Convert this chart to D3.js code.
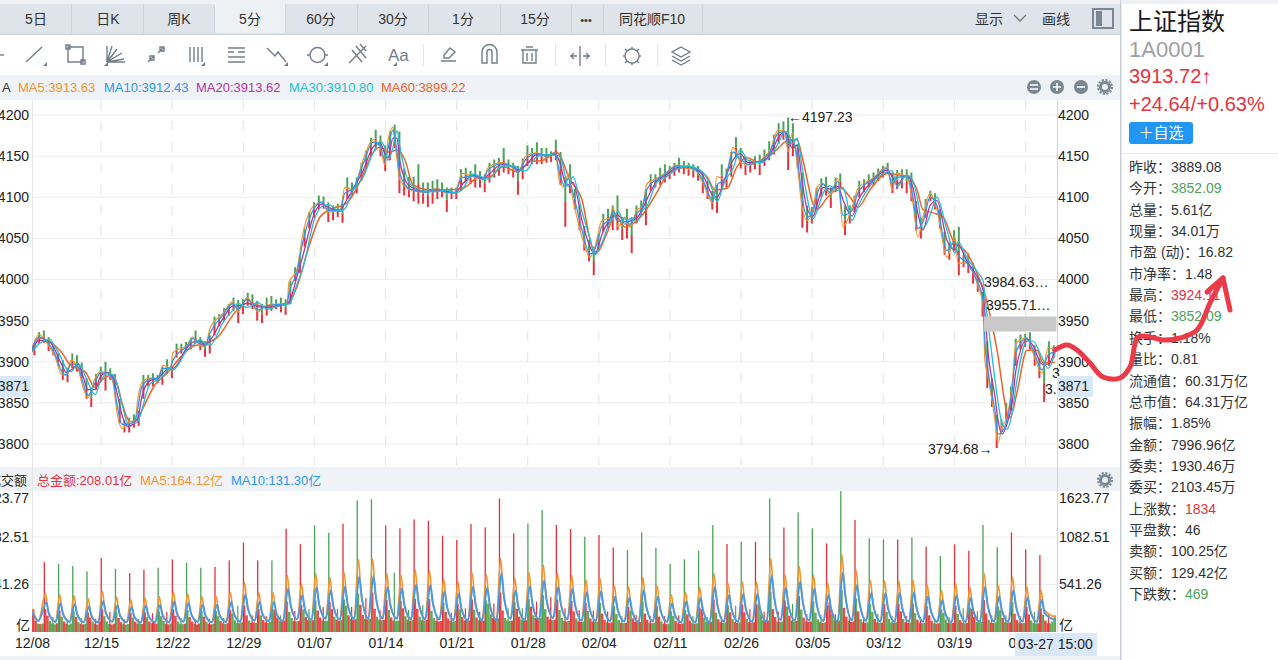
<!DOCTYPE html>
<html>
<head>
<meta charset="utf-8">
<script src="https://cdn.jsdelivr.net/npm/d3@7"></script>
<style>
  html, body { margin: 0; padding: 0; background: #fff; overflow: hidden; }
  svg { display: block; font-family: "Liberation Sans", "Noto Sans CJK SC", sans-serif; }
</style>
</head>
<body>
<svg id="chart" width="1278" height="660"></svg>
<script>
// 5 minute bars, 48 a day. Positions below are bar numbers.
const totalBars = 3456;
const dateBars = [0, 233, 473, 713, 953, 1193, 1433, 1673, 1913, 2153, 2393, 2633, 2873, 3113, 3353];
const dateLabels = ["12/08", "12/15", "12/22", "12/29", "01/07", "01/14", "01/21", "01/28", "02/04", "02/11", "02/26", "03/05", "03/12", "03/19", "03/26"];
const priceTicks = [3800, 3850, 3900, 3950, 4000, 4050, 4100, 4150, 4200];
const volumeTicks = [541.26, 1082.51, 1623.77];

const sampleBars = [0,24,61,78,101,115,132,155,172,189,213,230,253,273,287,304,324,348,358,371,398,425,442,466,476,523,543,567,584,601,645,678,695,726,763,793,861,867,894,915,955,979,999,1040,1056,1083,1117,1151,1175,1191,1202,1218,1232,1242,1276,1333,1367,1401,1428,1451,1488,1522,1539,1586,1630,1640,1664,1704,1738,1765,1782,1799,1809,1826,1856,1883,1900,1924,1951,1961,1978,2001,2018,2042,2059,2076,2109,2136,2177,2211,2238,2265,2298,2312,2339,2366,2390,2417,2457,2491,2518,2541,2552,2565,2582,2599,2616,2636,2649,2670,2693,2720,2737,2768,2788,2838,2886,2903,2919,2953,2973,2990,3007,3031,3054,3088,3115,3125,3156,3189,3210,3216,3227,3250,3260,3274,3291,3308,3321,3358,3378,3409,3429,3453];
const ma5 = [3917,3933,3917,3906,3884,3884,3902,3892,3869,3856,3880,3888,3886,3875,3838,3819,3826,3829,3857,3875,3880,3880,3896,3890,3911,3920,3930,3920,3918,3941,3959,3973,3961,3978,3961,3969,3971,3996,4012,4057,4091,4094,4082,4085,4112,4109,4145,4170,4161,4139,4170,4185,4145,4121,4109,4106,4111,4105,4106,4129,4125,4121,4136,4142,4133,4129,4149,4154,4149,4155,4117,4112,4129,4097,4052,4027,4040,4072,4075,4088,4064,4076,4064,4085,4088,4117,4123,4129,4139,4136,4133,4117,4093,4125,4121,4161,4143,4139,4145,4157,4182,4179,4155,4178,4142,4088,4072,4085,4112,4117,4103,4123,4064,4088,4111,4123,4137,4109,4129,4125,4093,4052,4076,4105,4085,4027,4052,4020,4020,3996,3967,3902,3881,3829,3801,3821,3833,3874,3923,3929,3911,3886,3917,3913.63];
const ma10 = [3916,3930,3920,3909,3888,3884,3898,3894,3875,3859,3875,3886,3886,3878,3848,3824,3824,3828,3845,3870,3879,3880,3892,3891,3902,3919,3928,3922,3919,3935,3957,3971,3964,3976,3963,3968,3971,3983,4009,4047,4088,4094,4084,4084,4105,4110,4140,4167,4163,4145,4160,4182,4155,4128,4110,4106,4110,4106,4106,4124,4126,4122,4133,4141,4135,4130,4145,4153,4150,4154,4127,4113,4123,4105,4060,4031,4037,4065,4074,4083,4070,4074,4067,4081,4087,4110,4122,4128,4138,4137,4134,4120,4096,4115,4122,4155,4147,4140,4144,4155,4178,4180,4162,4170,4150,4100,4076,4082,4103,4116,4106,4119,4078,4084,4106,4122,4135,4116,4124,4126,4101,4062,4070,4100,4090,4035,4046,4030,4020,3999,3975,3925,3888,3840,3812,3815,3830,3865,3912,3928,3915,3890,3908,3912.43];
const ma20 = [3914,3926,3924,3914,3896,3887,3890,3897,3883,3866,3866,3881,3887,3881,3862,3835,3821,3827,3832,3858,3877,3880,3886,3893,3892,3917,3924,3925,3920,3926,3953,3968,3968,3971,3967,3966,3970,3972,4003,4030,4082,4092,4088,4084,4093,4110,4132,4161,4166,4153,4148,4172,4172,4143,4113,4107,4109,4107,4105,4115,4127,4123,4127,4140,4136,4133,4138,4152,4151,4152,4142,4118,4115,4118,4072,4040,4031,4055,4073,4077,4078,4070,4071,4075,4085,4098,4120,4126,4136,4137,4135,4126,4102,4100,4123,4145,4153,4142,4143,4152,4172,4180,4172,4160,4163,4120,4086,4077,4090,4112,4110,4113,4097,4077,4096,4120,4133,4125,4116,4127,4112,4080,4060,4090,4096,4048,4036,4042,4022,4004,3987,3960,3910,3858,3830,3812,3825,3850,3890,3927,3920,3897,3897,3913.62];
const ma30 = [3912,3922,3927,3918,3903,3892,3888,3898,3889,3875,3860,3875,3886,3884,3872,3848,3825,3825,3828,3842,3873,3878,3882,3893,3890,3914,3920,3927,3922,3920,3948,3963,3971,3966,3972,3964,3970,3970,3994,4015,4075,4089,4091,4083,4086,4108,4124,4154,4168,4160,4145,4160,4181,4160,4116,4107,4107,4109,4105,4109,4128,4124,4122,4138,4138,4135,4132,4149,4152,4151,4150,4127,4113,4125,4083,4050,4030,4045,4070,4074,4083,4067,4074,4070,4083,4090,4118,4124,4134,4138,4136,4130,4108,4095,4120,4135,4158,4145,4142,4150,4165,4180,4178,4165,4172,4138,4100,4074,4083,4105,4114,4108,4112,4072,4089,4118,4131,4132,4113,4127,4120,4095,4062,4078,4100,4060,4032,4046,4026,4010,3998,3980,3945,3878,3852,3825,3818,3838,3870,3925,3925,3905,3892,3910.8];
const ma60Bars = [0,27,61,101,128,179,213,236,270,287,304,331,354,375,415,456,500,540,591,624,692,726,793,861,894,928,972,1006,1063,1107,1151,1175,1202,1232,1259,1286,1343,1401,1455,1502,1546,1590,1637,1681,1725,1772,1816,1856,1890,1907,1941,1968,2001,2052,2109,2136,2197,2244,2278,2305,2346,2379,2413,2457,2501,2558,2582,2602,2636,2649,2683,2727,2761,2788,2828,2886,2963,2987,3007,3041,3075,3108,3156,3189,3216,3257,3291,3301,3324,3358,3392,3412,3453];
const ma60 = [3912,3929,3924,3911,3896,3888,3869,3878,3884,3874,3850,3827,3829,3844,3872,3886,3905,3918,3923,3929,3963,3971,3967,3971,3991,4032,4076,4085,4093,4119,4154,4161,4155,4157,4145,4115,4109,4109,4111,4123,4125,4137,4131,4143,4145,4154,4121,4097,4040,4033,4057,4078,4064,4075,4106,4123,4136,4133,4125,4109,4111,4137,4148,4142,4154,4170,4170,4145,4092,4085,4099,4112,4100,4088,4109,4129,4123,4109,4085,4081,4076,4048,4032,4008,3982,3914,3838,3832,3862,3914,3914,3899,3899.22];

// one high and one low every 16 bars
const candleHigh = [3921,3936,3938,3930,3921,3910,3902,3893,3910,3908,3899,3880,3868,3885,3894,3900,3892,3885,3855,3829,3832,3836,3840,3884,3884,3886,3884,3894,3903,3895,3922,3922,3924,3929,3938,3930,3925,3932,3955,3958,3965,3970,3978,3975,3976,3984,3982,3974,3970,3978,3980,3976,3978,3976,3998,4015,4028,4062,4082,4094,4102,4101,4094,4090,4092,4092,4124,4118,4124,4142,4157,4172,4182,4175,4163,4180,4188,4180,4135,4125,4125,4140,4118,4118,4120,4122,4118,4112,4112,4112,4134,4136,4132,4140,4132,4128,4142,4146,4148,4160,4146,4142,4138,4147,4163,4160,4167,4160,4160,4156,4170,4155,4125,4140,4110,4090,4065,4048,4040,4055,4080,4086,4090,4102,4076,4086,4076,4090,4096,4110,4128,4128,4136,4140,4138,4142,4148,4144,4142,4140,4138,4130,4120,4108,4115,4140,4135,4155,4173,4160,4150,4146,4150,4152,4158,4168,4176,4190,4192,4197,4190,4165,4130,4090,4088,4112,4123,4125,4112,4124,4129,4090,4090,4102,4120,4122,4128,4130,4135,4138,4142,4130,4133,4134,4134,4130,4095,4075,4098,4108,4105,4085,4058,4045,4060,4064,4030,4032,4020,4005,3985,3925,3880,3835,3830,3850,3870,3928,3933,3934,3936,3920,3905,3898,3925,3920];
const candleLow = [3908,3922,3923,3913,3908,3895,3878,3875,3892,3888,3880,3855,3845,3866,3876,3865,3878,3866,3825,3814,3814,3820,3822,3855,3870,3870,3874,3872,3885,3880,3905,3910,3913,3915,3922,3914,3906,3910,3932,3943,3950,3956,3962,3947,3958,3968,3964,3950,3947,3956,3962,3964,3960,3957,3970,3998,4008,4040,4062,4075,4085,4086,4070,4072,4076,4069,4098,4102,4105,4120,4135,4150,4160,4150,4132,4145,4160,4105,4102,4100,4095,4092,4092,4088,4092,4098,4100,4082,4098,4098,4108,4118,4116,4112,4112,4106,4118,4124,4126,4130,4128,4124,4103,4122,4138,4140,4140,4140,4142,4143,4145,4115,4064,4105,4085,4060,4035,4022,4005,4035,4058,4062,4060,4060,4048,4050,4032,4068,4078,4066,4108,4112,4115,4118,4122,4126,4130,4128,4126,4124,4120,4105,4098,4085,4081,4112,4112,4125,4148,4135,4127,4130,4134,4127,4138,4145,4152,4165,4170,4133,4150,4135,4063,4057,4068,4085,4100,4102,4087,4106,4110,4054,4068,4082,4100,4106,4112,4114,4120,4124,4128,4105,4110,4111,4105,4095,4060,4050,4075,4095,4085,4062,4030,4024,4035,4005,4015,4008,3995,3985,3955,3868,3845,3795,3815,3830,3840,3895,3915,3918,3915,3895,3880,3851,3895,3905];

// one spike per trading day
const volumeSpike = [797,778,752,691,843,721,672,710,733,827,790,733,741,816,1017,816,816,1177,1000,1215,1131,1233,1500,1511,1215,1181,1283,1268,1097,1048,1230,1192,1522,1124,1238,1390,1219,1173,1086,1105,963,934,1135,960,775,828,926,1219,1002,1029,1029,1522,1192,1363,1181,1010,1606,1276,1067,1055,1055,1078,972,866,999,926,1219,965,1135,942,877];
const spikeSide = "rgggrgrrgrggrrrrgrrggrggrrrrrrrrrrggrrgrrgggggggrgrgrggrgrggrgrgrrggrrr";
const volumeMinor = [171,150,160,150,230,150,150,215,230,160,150,150,160,300,190,180,190,240,260,285,265,285,387,247,676,250,307,190,220,270,230,325,270,270,345,400,270,250,245,235,180,195,180,180,190,180,170,180,300,260,230,230,320,205,190,205,205,180,205,180,180,170,150,170,270,235,190,190,180,230,200];
const minorSide = "gggrrrgrrgrrggrrgrgrgrrrgggrrrrrggrrrrrrgrrrrggrgrrrgrgrrrggrrgrggggrgr";
// six bars a day, 8 bars of the chart wide each
const volumeBase = [
  260,130,95,90,95,260, 185,125,100,88,100,245, 175,120,95,85,98,235, 170,115,92,88,95,220,
  165,120,95,85,120,265, 180,120,90,85,95,230, 160,112,90,82,90,215, 165,118,95,100,92,225,
  170,120,100,110,95,235, 180,125,92,88,98,260, 185,120,95,90,96,250, 170,118,92,86,98,235,
  175,120,94,88,95,240, 180,125,98,92,100,255, 210,135,105,100,110,300, 190,130,105,110,105,260,
  190,135,110,105,115,260, 250,165,130,120,130,350, 230,160,125,120,125,310, 255,170,135,130,135,360,
  245,165,130,125,130,340, 260,175,140,130,135,370, 300,190,150,140,145,440, 310,195,150,145,150,450,
  265,175,140,135,140,365, 250,165,130,125,130,355, 270,180,140,130,135,380, 265,175,135,130,140,375,
  240,160,125,120,125,335, 230,155,125,120,125,320, 260,170,130,125,130,370, 255,165,135,130,130,360,
  320,200,160,150,155,450, 245,160,130,125,130,340, 265,175,140,130,135,375, 290,190,160,155,160,420,
  260,175,140,135,140,370, 250,160,125,120,125,355, 235,155,120,115,120,330, 240,155,120,115,118,335,
  210,140,110,105,110,295, 205,135,105,100,105,285, 245,155,115,110,115,345, 210,140,105,100,105,295,
  175,120,95,90,95,235, 185,125,98,92,98,250, 200,130,100,95,100,280, 260,165,118,112,118,370,
  220,145,110,105,110,305, 225,150,112,105,110,315, 225,150,112,105,112,315, 320,200,135,125,130,460,
  260,170,120,115,120,360, 290,185,130,120,125,410, 255,165,120,115,120,355, 220,145,110,105,110,305,
  340,210,140,125,130,480, 275,175,125,115,120,385, 235,150,110,105,110,320, 230,148,110,105,108,320,
  230,148,108,105,110,320, 235,150,110,105,108,325, 215,140,105,100,105,295, 190,128,100,95,100,260,
  218,142,105,100,105,300, 205,135,105,100,105,280, 265,170,115,110,115,365, 212,140,108,102,108,290,
  248,160,112,105,110,340, 208,138,105,100,105,285, 200,132,102,98,100,270, 195,130,100,98,120,190
];
const baseSides = "rrgrgrrgggrrgrrgggrgrrg";
// peak, shoulder, trough for each day, after a short opening stub
const volMa5Stub = [265, 130], volMa10Stub = [230, 125];
const volMa5 = [438,240,115,428,235,115,414,225,112,380,210,110,464,255,118,397,215,112,370,205,110,390,215,112,403,220,112,455,250,118,435,240,115,403,220,112,408,225,115,449,245,118,560,305,130,449,245,125,449,245,125,647,355,145,550,300,140,668,365,150,622,340,145,678,370,150,825,450,155,831,455,155,668,365,150,650,355,140,706,385,145,697,380,145,603,330,135,576,315,130,676,370,135,656,360,135,837,457,150,618,337,135,681,371,140,765,417,160,670,366,145,645,352,130,597,326,125,608,332,125,530,289,120,514,280,115,624,340,120,528,288,115,426,233,110,455,248,110,509,278,112,670,366,120,551,300,118,566,309,118,566,309,118,837,457,135,656,358,130,750,409,130,650,354,125,555,303,120,883,482,135,702,383,128,587,320,120,580,316,118,580,316,118,593,323,118,535,292,115,476,260,112,549,300,115,509,278,115,670,366,120,531,290,118,624,340,120,518,283,115,482,263,164.12];
const volMa10 = [335,200,115,327,195,115,316,188,112,290,173,110,354,211,118,303,180,112,282,168,110,298,178,112,308,183,112,347,207,118,332,198,115,308,183,112,311,185,115,343,204,118,427,254,130,343,204,125,343,204,125,494,294,145,420,250,140,510,304,150,475,283,145,518,308,150,630,375,155,635,378,155,510,304,150,496,295,145,539,321,145,533,317,145,461,274,135,440,262,130,517,308,135,501,298,135,670,390,150,472,281,135,520,310,140,584,348,160,512,305,145,493,293,130,456,272,125,464,276,125,404,241,120,392,234,115,477,284,120,403,240,115,326,194,110,348,207,110,389,232,112,512,305,120,421,250,118,432,257,118,432,257,118,640,380,135,501,298,130,572,341,130,496,295,125,424,253,120,675,400,135,536,319,128,448,267,120,443,264,118,443,264,118,453,270,118,408,243,115,364,217,112,420,250,115,389,232,115,512,305,120,405,241,118,477,284,120,396,236,115,368,219,131.3];

const RED = "#e5323e", GREEN = "#4ba35a", FIRST_SPIKE = 41.5, BARS_PER_DAY = 48;
const FONT_CN = "'Liberation Sans','Noto Sans CJK SC',sans-serif";

const svg = d3.select("#chart");
const x = d3.scaleLinear().domain([0, totalBars]).range([32, 1056]);
const yPrice = d3.scaleLinear().domain([3800, 4200]).range([444, 115]);
const yVolume = d3.scaleLinear().domain([0, 1623.77]).range([632, 489.5]);

const label = (px, py, str, size, fill, anchor) => svg.append("text")
  .attr("x", px).attr("y", py).attr("font-size", size)
  .attr("fill", fill || "#222").attr("text-anchor", anchor || "start").text(str);
const block = (px, py, w, h, fill) => svg.append("rect")
  .attr("x", px).attr("y", py).attr("width", w).attr("height", h).attr("fill", fill);

// page furniture
block(0, 0, 1278, 4, "#eef0f3");
block(0, 4, 1120, 29.5, "#dfe4ea");
block(214, 4, 71, 29.5, "#eef1f4");
block(0, 33.5, 1120, 1.5, "#ccd3db");
block(0, 75, 1120, 25, "#eff2f6");
block(0, 467, 1120, 24, "#eff2f6");
block(0, 656, 1120, 4, "#eef0f3");
block(1120, 0, 1.5, 660, "#c9ced4");
block(1121, 0, 157, 4, "#eef0f3");
block(1121, 153, 157, 1, "#e8e8e8");

[71, 143, 214, 285, 357, 428, 500, 571, 603, 702].forEach(v => block(v, 5, 1, 28, "#cfd5dc"));
const tabLabels = ["5日", "日K", "周K", "5分", "60分", "30分", "1分", "15分", "•••", "同花顺F10"];
const tabCenters = [36, 108, 179, 250, 321, 393, 463, 535, 586, 652];
tabLabels.forEach((t, i) => label(tabCenters[i], 24, t, t === "•••" ? 11 : 14, "#333", "middle"));
label(975, 24, "显示", 14, "#333");
label(1042, 24, "画线", 14, "#333");
svg.append("path").attr("d", "M1014 15l6 6 6-6").attr("fill", "none").attr("stroke", "#777").attr("stroke-width", 1.4);
svg.append("rect").attr("x", 1093).attr("y", 9).attr("width", 20).attr("height", 19).attr("fill", "none").attr("stroke", "#7b8794").attr("stroke-width", 2);
block(1096, 11, 6, 15, "#7b8794");

// drawing toolbar
const iconPaths = [
  "M0 55h4", "M26 62l16-15", "M68 47h15v15h-15zM66 45h4v4h-4zM81 60h4v4h-4z",
  "M107 62V46M107 62l5-16M107 62l10-13M107 62l15-9M107 62l17-3M107 62h18",
  "M148 62l6-6M158 53l6-6M150 56h4v4h-4zM160 47h4v4h-4z", "M190 47v15M194 47v15M198 47v15M202 47v15",
  "M228 48h17M228 52h6M238 52h7M228 57h17M228 62h17", "M267 48l8 8 3-4 8 10",
  "M310 55a7.500 7.500 0 1 0 15 0a7.500 7.500 0 1 0 -15 0M307 55h3M325 55h3", "M349 63l17-17M352 50l10 12M356 46l10 12M360 44l6 7",
  "M441 61h15M444 55l6-7 5 4-6 6h-5z", "M482 63V52a7.500 7.500 0 0 1 15 0v11h-5V52a2.500 2.500 0 0 0-5 0v11z",
  "M521 50h17M526 47h7M523 50v13h13V50M527 53v8M532 53v8", "M580 46v20M570 56h7M590 56h-7M574 53l-3 3 3 3M586 53l3 3-3 3",
  "M625 56a7 7 0 1 0 14 0a7 7 0 1 0 -14 0M632 47v2M632 63v2M623 56h2M639 56h2M625 49l2 2M637 61l2 2M625 63l2-2M637 51l2-2",
  "M681 47l9 5-9 5-9-5zM672 56l9 5 9-5M672 60l9 5 9-5"
];
iconPaths.forEach(d => svg.append("path").attr("d", d).attr("fill", "none").attr("stroke", "#737d89").attr("stroke-width", 1.4));
label(388, 61, "Aa", 17, "#737d89");
[47, 108, 205, 288, 328, 397].forEach(v => svg.append("path").attr("d", `M${v} 66v-4l-4 4z`).attr("fill", "#737d89"));
[423, 555, 605, 657].forEach(v => block(v, 44, 1, 22, "#e2e5e9"));

// legends
label(2, 92, "A", 13, "#333");
const maNames = ["MA5:3913.63", "MA10:3912.43", "MA20:3913.62", "MA30:3910.80", "MA60:3899.22"];
const maColors = ["#f2942f", "#2f96ee", "#b3369f", "#1fbfd4", "#ee6428"];
const maLegendX = [18, 104, 196, 289, 381];
maNames.forEach((t, i) => label(maLegendX[i], 92, t, 13, maColors[i]));
label(27, 485, "成交额", 13, "#222", "end");
label(37, 485, "总金额:208.01亿", 13, RED);
label(140, 485, "MA5:164.12亿", 13, "#f2942f");
label(231, 485, "MA10:131.30亿", 13, "#2f96ee");

[1034, 1057, 1081].forEach((cx, i) => {
  svg.append("circle").attr("cx", cx).attr("cy", 87).attr("r", 7).attr("fill", "#7b8794");
  const marks = ["M1030 85h8M1030 89h8", "M1053 87h8M1057 83v8", "M1077 87h8"];
  svg.append("path").attr("d", marks[i]).attr("stroke", "#fff").attr("stroke-width", 1.6);
});
[87, 480].forEach(cy => {
  svg.append("circle").attr("cx", 1105).attr("cy", cy).attr("r", 4.5).attr("fill", "none").attr("stroke", "#7b8794").attr("stroke-width", 3);
  svg.append("circle").attr("cx", 1105).attr("cy", cy).attr("r", 7).attr("fill", "none").attr("stroke", "#7b8794").attr("stroke-width", 2).attr("stroke-dasharray", "2.200 1.470");
});

// grid
svg.append("g").selectAll("line").data(priceTicks).join("line")
  .attr("x1", 32).attr("x2", 1057).attr("y1", d => yPrice(d)).attr("y2", d => yPrice(d))
  .attr("stroke", "#ececec");
svg.append("g").selectAll("line").data(dateBars.slice(1)).join("line")
  .attr("x1", d => x(d)).attr("x2", d => x(d)).attr("y1", 100).attr("y2", 466)
  .attr("stroke", "#e4e4e4").attr("stroke-dasharray", "10 11");
svg.append("g").selectAll("line").data(volumeTicks.slice(0, 2)).join("line")
  .attr("x1", 32).attr("x2", 1057).attr("y1", d => yVolume(d)).attr("y2", d => yVolume(d))
  .attr("stroke", "#ececec");
block(32, 100, 1, 532, "#e6e6e6");
block(1057, 100, 1, 532, "#d6d6d6");

svg.append("clipPath").attr("id", "plot").append("rect").attr("x", 32).attr("y", 100).attr("width", 1024.500).attr("height", 534);
const plot = svg.append("g").attr("clip-path", "url(#plot)");

// volume: base bars, small afternoon bars, open spikes
plot.append("g").selectAll("rect").data(volumeBase).join("rect")
  .attr("x", (d, i) => x(i * 8)).attr("width", x(8) - x(0) + 0.1)
  .attr("y", d => yVolume(d)).attr("height", d => yVolume(0) - yVolume(d))
  .attr("fill", (d, i) => baseSides[i % baseSides.length] === "r" ? "#e8383a" : "#5aa24c").attr("fill-opacity", 0.92);
plot.append("g").selectAll("rect").data(volumeMinor).join("rect")
  .attr("x", (d, i) => x(FIRST_SPIKE + BARS_PER_DAY * i + 29) - 0.5).attr("width", 1.2)
  .attr("y", d => yVolume(d)).attr("height", d => yVolume(0) - yVolume(d))
  .attr("fill", (d, i) => minorSide[i] === "r" ? RED : GREEN);
plot.append("g").selectAll("rect").data(volumeSpike).join("rect")
  .attr("x", (d, i) => x(FIRST_SPIKE + BARS_PER_DAY * i) - 0.6).attr("width", 1.3)
  .attr("y", d => yVolume(d)).attr("height", d => yVolume(0) - yVolume(d))
  .attr("fill", (d, i) => spikeSide[i] === "r" ? RED : GREEN);

const volumeLine = d3.line().x(d => x(d[0])).y(d => yVolume(d[1])).curve(d3.curveMonotoneX);
const dayPoints = (stub, values, peakAt) => {
  const pts = [[0, stub[0]], [22, stub[1]]];
  values.forEach((v, i) => {
    const start = FIRST_SPIKE + BARS_PER_DAY * Math.floor(i / 3);
    const offset = [peakAt, peakAt + 9, 38][i % 3];
    pts.push([i === values.length - 1 ? totalBars : start + offset, v]);
  });
  return pts;
};
plot.append("path").attr("d", volumeLine(dayPoints(volMa5Stub, volMa5, 4)))
  .attr("fill", "none").attr("stroke", "#f2952c").attr("stroke-width", 1.6);
plot.append("path").attr("d", volumeLine(dayPoints(volMa10Stub, volMa10, 7)))
  .attr("fill", "none").attr("stroke", "#4b9be2").attr("stroke-width", 2);

// price: each bucket has a green top half and a red bottom half
const candles = plot.append("g");
candleHigh.forEach((hi, i) => {
  const lo = candleLow[i], mid = (hi + lo) / 2, cx = x(i * 16 + 8);
  candles.append("line").attr("x1", cx).attr("x2", cx).attr("y1", yPrice(hi)).attr("y2", yPrice(mid)).attr("stroke", GREEN).attr("stroke-width", 2);
  candles.append("line").attr("x1", cx).attr("x2", cx).attr("y1", yPrice(lo)).attr("y2", yPrice(mid)).attr("stroke", RED).attr("stroke-width", 2);
});

const priceLine = d3.line().x(d => x(d[0])).y(d => yPrice(d[1])).curve(d3.curveMonotoneX);
const maSeries = [
  [ma60Bars, ma60, maColors[4], 1.5],
  [sampleBars, ma5, maColors[0], 1.2],
  [sampleBars, ma20, maColors[2], 1.3],
  [sampleBars, ma10, maColors[1], 1.3],
  [sampleBars, ma30, maColors[3], 1.3]
];
block(984, 316.5, 72.5, 15, "#c9c9c9");
maSeries.forEach(([bars, values, color, width]) => {
  plot.append("path").attr("d", priceLine(values.map((v, i) => [bars[i], v])))
    .attr("fill", "none").attr("stroke", color).attr("stroke-width", width);
});

label(788, 122, "←4197.23", 14);
label(928, 454, "3794.68→", 14);
label(984, 287, "3984.63…", 14);
label(986, 310, "3955.71…", 14);
label(1052, 378, "3", 14);
label(1045, 394, "3.", 14);

// axes
const styleAxis = g => {
  g.attr("font-size", 14).attr("font-family", FONT_CN).call(a => a.select(".domain").remove());
  g.selectAll("text").attr("fill", "#222");
};
block(0, 376, 31, 21, "#d9e8fb");
block(1057, 376, 36, 21, "#d9e8fb");
svg.append("g").attr("transform", "translate(1057,0)")
  .call(d3.axisRight(yPrice).tickValues(priceTicks).tickSize(0).tickPadding(1).tickFormat(d3.format("d"))).call(styleAxis);
svg.append("g").attr("transform", "translate(32,0)")
  .call(d3.axisLeft(yPrice).tickValues(priceTicks).tickSize(0).tickPadding(3).tickFormat(d3.format("d"))).call(styleAxis);
label(29, 391, "3871", 14, "#222", "end");
label(1058, 391, "3871", 14);

const fixTop = g => g.selectAll("text").filter(d => d === 1623.77).attr("dy", "0.95em");
svg.append("g").attr("transform", "translate(1057,0)")
  .call(d3.axisRight(yVolume).tickValues(volumeTicks).tickSize(0).tickPadding(2).tickFormat(d3.format(".2f"))).call(styleAxis).call(fixTop);
svg.append("g").attr("transform", "translate(32,0)")
  .call(d3.axisLeft(yVolume).tickValues(volumeTicks).tickSize(0).tickPadding(3).tickFormat(d3.format(".2f"))).call(styleAxis).call(fixTop);
label(16, 630, "亿", 14);
label(1059, 630, "亿", 14);

svg.append("g").attr("transform", "translate(0,632)")
  .call(d3.axisBottom(x).tickValues(dateBars).tickSize(0).tickPadding(6).tickFormat((d, i) => dateLabels[i])).call(styleAxis);
block(1015, 633, 82, 23, "#d9e8fb");
label(1018, 649, "03-27 15:00", 14);

// quote panel
label(1129, 30, "上证指数", 24, "#1a1a1a");
label(1129, 57, "1A0001", 22, "#a0a0a0");
label(1129, 83, "3913.72↑", 20, RED);
label(1129, 111, "+24.64/+0.63%", 20, RED);
svg.append("rect").attr("x", 1129).attr("y", 122).attr("width", 64).attr("height", 22).attr("rx", 3).attr("fill", "#2196f3");
label(1161, 138, "＋自选", 15, "#fff", "middle");

const statLabels = ["昨收：", "今开：", "总量：", "现量：", "市盈 (动)：", "市净率：", "最高：", "最低：", "换手：", "量比：", "流通值：", "总市值：", "振幅：", "金额：", "委卖：", "委买：", "上涨数：", "平盘数：", "卖额：", "买额：", "下跌数："];
const statValues = ["3889.08", "3852.09", "5.61亿", "34.01万", "16.82", "1.48", "3924.11", "3852.09", "1.18%", "0.81", "60.31万亿", "64.31万亿", "1.85%", "7996.96亿", "1930.46万", "2103.45万", "1834", "46", "100.25亿", "129.42亿", "469"];
const statSide = { 1: GREEN, 6: RED, 7: GREEN, 16: RED, 20: GREEN };
statLabels.forEach((t, i) => {
  const py = 172 + i * 21.35;
  label(1129, py, t, 14, "#333");
  const vx = t.length === 3 ? 1171 : t.length === 4 ? 1185 : 1198;
  label(vx, py, statValues[i], 14, statSide[i] || "#333");
});

// hand drawn arrow over the picture
svg.append("path")
  .attr("d", d3.line().curve(d3.curveCatmullRom)([[1055, 350], [1067, 345], [1077, 350], [1090, 363], [1103, 377], [1120, 378], [1130, 367], [1138, 337], [1150, 337], [1163, 340], [1180, 338], [1197, 330], [1210, 303], [1223, 278]]))
  .attr("fill", "none").attr("stroke", "#ec3b48").attr("stroke-width", 5).attr("stroke-linecap", "round");
svg.append("path").attr("d", "M1207 292L1223 278L1230 310")
  .attr("fill", "none").attr("stroke", "#ec3b48").attr("stroke-width", 5).attr("stroke-linecap", "round").attr("stroke-linejoin", "round");
</script>
</body>
</html>
